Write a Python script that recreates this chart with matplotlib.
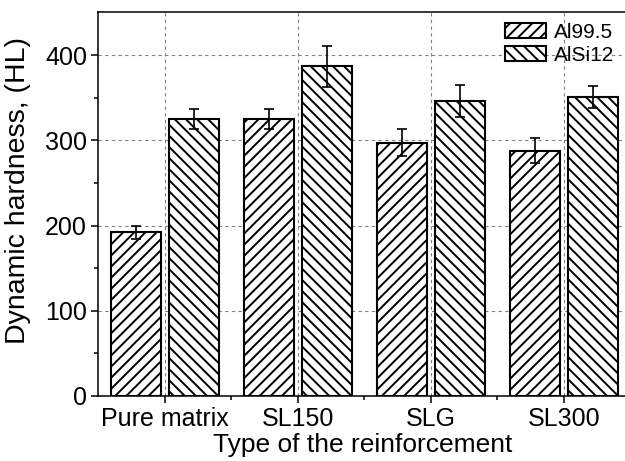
import matplotlib

matplotlib.use("Agg")
import matplotlib.pyplot as plt  # noqa: E402
import numpy as np  # noqa: E402
from matplotlib.patches import Patch  # noqa: E402

categories = ["Pure matrix", "SL150", "SLG", "SL300"]
series = ["Al99.5", "AlSi12"]
al995 = [192, 325, 297, 288]
al995_err = [8, 12, 16, 15]
alsi12 = [325, 387, 346, 351]
alsi12_err = [12, 24, 19, 13]

plt.rcParams["font.family"] = ["Liberation Sans", "DejaVu Sans"]
plt.rcParams["hatch.linewidth"] = 1.4

fig = plt.figure(figsize=(6.25, 4.61), dpi=100)
ax = fig.add_axes([0.157, 0.141, 0.843, 0.832])

x = np.arange(len(categories))
w = 0.376
off = 0.218
hatches = ["///", "\\\\\\"]
ax.bar(x - off, al995, w, facecolor="white", edgecolor="black", linewidth=1.5, hatch=hatches[0], zorder=2)
ax.bar(x + off, alsi12, w, facecolor="white", edgecolor="black", linewidth=1.5, hatch=hatches[1], zorder=2)
ax.errorbar(x - off, al995, yerr=al995_err, fmt="none", ecolor="black", elinewidth=1.2, capsize=3.5, capthick=1.2, zorder=3)
ax.errorbar(x + off, alsi12, yerr=alsi12_err, fmt="none", ecolor="black", elinewidth=1.2, capsize=3.5, capthick=1.2, zorder=3)

ax.set_xlim(-0.5, 3.46)
ax.set_ylim(0, 450)
ax.set_yticks([0, 100, 200, 300, 400])
ax.set_yticks([50, 150, 250, 350], minor=True)
ax.set_xticks(x)
ax.set_xticklabels(categories)
ax.set_xticks(x[:-1] + 0.5, minor=True)
ax.grid(True, which="major", linestyle=(0, (3, 3)), color="#808080", linewidth=0.8, zorder=0)
ax.set_axisbelow(True)
ax.spines["right"].set_visible(False)
for s in ("left", "bottom", "top"):
    ax.spines[s].set_linewidth(1.1)
ax.tick_params(which="major", direction="out", length=5, width=1.1, labelsize=18, pad=3)
ax.tick_params(which="minor", direction="out", length=3, width=1.1)
ax.set_xlabel("Type of the reinforcement", fontsize=19, va="top")
ax.xaxis.set_label_coords(0.502, -0.097)
ax.set_ylabel("Dynamic hardness, (HL)", fontsize=20.5)
ax.yaxis.set_label_coords(-0.128, 0.535)

handles = [Patch(facecolor="white", edgecolor="black", linewidth=1.5, hatch=hatches[0], label=series[0]),
           Patch(facecolor="white", edgecolor="black", linewidth=1.5, hatch=hatches[1], label=series[1])]
ax.legend(handles=handles, loc="upper right", frameon=False, fontsize=15,
          handlelength=1.95, handleheight=0.72, handletextpad=0.4, labelspacing=0.2,
          borderaxespad=0.1, bbox_to_anchor=(1.0, 1.0))

fig.savefig("out.png", dpi=100)
